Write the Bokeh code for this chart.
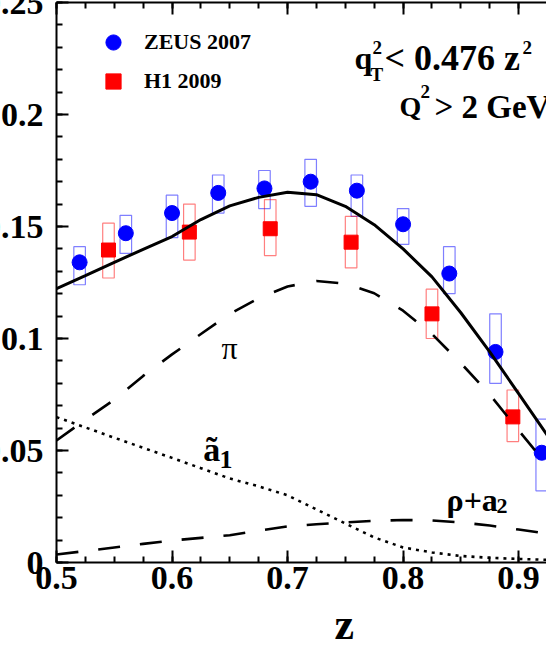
from bokeh.plotting import figure
from bokeh.models import (Range1d, LinearAxis, SingleIntervalTicker, Label, Title,
                          ColumnDataSource, Legend, LegendItem, CustomJSTickFormatter)
from bokeh.embed import file_html
from bokeh.resources import INLINE

# ---------------- data ----------------
zeus_z = [0.52, 0.56, 0.60, 0.64, 0.68, 0.72, 0.76, 0.80, 0.84, 0.88, 0.92]
zeus_v = [0.134, 0.147, 0.156, 0.165, 0.167, 0.170, 0.166, 0.151, 0.129, 0.094, 0.049]
zeus_lo = [0.124, 0.138, 0.145, 0.156, 0.158, 0.159, 0.1545, 0.142, 0.120, 0.080, 0.032]
zeus_hi = [0.141, 0.155, 0.164, 0.173, 0.175, 0.180, 0.173, 0.158, 0.141, 0.111, 0.064]

h1_z = [0.545, 0.615, 0.685, 0.755, 0.825, 0.895]
h1_v = [0.1395, 0.1475, 0.149, 0.143, 0.111, 0.065]
h1_lo = [0.127, 0.135, 0.137, 0.1315, 0.100, 0.054]
h1_hi = [0.1515, 0.160, 0.162, 0.1545, 0.122, 0.077]

curve_z = [0.5, 0.525, 0.55, 0.575, 0.6, 0.625, 0.65, 0.675, 0.7, 0.725,
           0.75, 0.775, 0.8, 0.825, 0.85, 0.875, 0.9, 0.925]
total = [0.1223, 0.1281, 0.134, 0.1398, 0.1455, 0.1531, 0.1592, 0.163, 0.1653, 0.1642,
         0.159, 0.1508, 0.140, 0.1275, 0.1115, 0.094, 0.0754, 0.0567]
pion = [0.0545, 0.0637, 0.0727, 0.0833, 0.0929, 0.102, 0.111, 0.118, 0.1232, 0.1257,
        0.1245, 0.1202, 0.1124, 0.102, 0.089, 0.075, 0.059, 0.0433]
a1 = [0.0649, 0.0603, 0.0557, 0.0512, 0.0467, 0.0421, 0.0375, 0.034, 0.030, 0.0237,
      0.0174, 0.0112, 0.0067, 0.0045, 0.0029, 0.0021, 0.0016, 0.0012]
rho_a2 = [0.0036, 0.0051, 0.0067, 0.0083, 0.0098, 0.011, 0.0122, 0.0142, 0.0161, 0.0171,
          0.0179, 0.0186, 0.019, 0.0188, 0.0179, 0.0165, 0.0147, 0.0129]

# ---------------- styles ----------------
FONT = "Liberation Serif"
HALF_W = 0.005

p = figure(frame_width=491, frame_height=560,
           x_range=Range1d(0.5, 0.925), y_range=Range1d(0, 0.25),
           output_backend="svg", toolbar_location=None,
           min_border_left=75, min_border_right=0, min_border_top=12, min_border_bottom=90,
           margin=(-10, 0, -20, -20))
p.grid.visible = False
p.outline_line_color = None
p.background_fill_color = "white"
p.border_fill_color = "white"

empty_fmt = CustomJSTickFormatter(code="return ''")

def style_axis(ax, interval, nminor):
    ax.ticker = SingleIntervalTicker(interval=interval, num_minor_ticks=nminor)
    ax.major_tick_in = 12
    ax.major_tick_out = 0
    ax.minor_tick_in = 6
    ax.minor_tick_out = 0
    ax.axis_line_width = 2
    ax.major_tick_line_width = 2
    ax.minor_tick_line_width = 2
    ax.axis_line_color = "black"
    ax.major_label_text_font = FONT
    ax.major_label_text_font_style = "bold"
    ax.major_label_text_font_size = "34px"
    ax.major_label_text_color = "black"

style_axis(p.xaxis[0], 0.1, 4)
p.xaxis[0].major_label_standoff = 4
style_axis(p.yaxis[0], 0.05, 5)
p.yaxis[0].major_label_standoff = 13

top = LinearAxis()
style_axis(top, 0.1, 4)
top.formatter = empty_fmt
top.major_label_standoff = 0
top.major_label_text_font_size = "1px"
p.add_layout(top, "above")

# x axis title
p.add_layout(Title(text="z", align="left", offset=278, standoff=12,
                   text_font=FONT, text_font_style="bold", text_font_size="44px",
                   text_color="black"), "below")

# error boxes
zsrc = ColumnDataSource(dict(z=zeus_z, v=zeus_v, lo=zeus_lo, hi=zeus_hi,
                             l=[z - HALF_W for z in zeus_z], r=[z + HALF_W for z in zeus_z]))
hsrc = ColumnDataSource(dict(z=h1_z, v=h1_v, lo=h1_lo, hi=h1_hi,
                             l=[z - HALF_W for z in h1_z], r=[z + HALF_W for z in h1_z]))
p.quad(left="l", right="r", bottom="lo", top="hi", source=zsrc,
       fill_color=None, line_color="#0000ff", line_alpha=0.5, line_width=1.2)
p.quad(left="l", right="r", bottom="lo", top="hi", source=hsrc,
       fill_color=None, line_color="#ff0000", line_alpha=0.5, line_width=1.2)

zr = p.scatter("z", "v", source=zsrc, marker="circle", size=15,
               fill_color="#0000ff", line_color="#0000ff")
hr = p.scatter("z", "v", source=hsrc, marker="square", size=14,
               fill_color="#ff0000", line_color="#ff0000")

# curves
p.line(curve_z, total, line_color="black", line_width=3)
p.line(curve_z, pion, line_color="black", line_width=2.6, line_dash="22 22")
p.line(curve_z, a1, line_color="black", line_width=2.6, line_dash="3 5")
p.line(curve_z, rho_a2, line_color="black", line_width=2.6, line_dash="22 20")

# legend
legend = Legend(items=[LegendItem(label="ZEUS 2007", renderers=[zr]),
                       LegendItem(label="H1 2009", renderers=[hr])],
                location=(38, 462), padding=0, margin=0, spacing=1,
                glyph_width=38, glyph_height=38, label_standoff=12,
                label_text_font=FONT, label_text_font_style="bold",
                label_text_font_size="22px", label_text_color="black",
                border_line_color=None, background_fill_alpha=0)
p.add_layout(legend)

def lab(sx, sy, txt, size, bold=True, align="left"):
    p.add_layout(Label(x=sx, y=sy, x_units="screen", y_units="screen", text=txt,
                       text_font=FONT, text_font_style="bold" if bold else "normal",
                       text_font_size=size, text_align=align,
                       text_baseline="alphabetic", text_color="black"))

# cut annotation (screen units from frame bottom-left)
lab(298, 505, "q", "32px")
lab(316, 515, "2", "19px")
lab(314, 488, "T", "19px")
lab(328, 505, "< 0.476 z", "36px")
lab(466, 515, "2", "19px")
lab(343, 456, "Q", "28px")
lab(364, 471, "2", "19px")
lab(378, 456, "> 2 GeV", "33px")

# curve labels
lab(165, 215, "π", "32px", bold=False)
lab(146.7, 113, "ã", "34px")
lab(163, 103, "1", "26px")
lab(390, 63, "ρ+a", "32px")
lab(440, 57, "2", "22px")

open("out.html", "w").write(file_html(p, INLINE))
